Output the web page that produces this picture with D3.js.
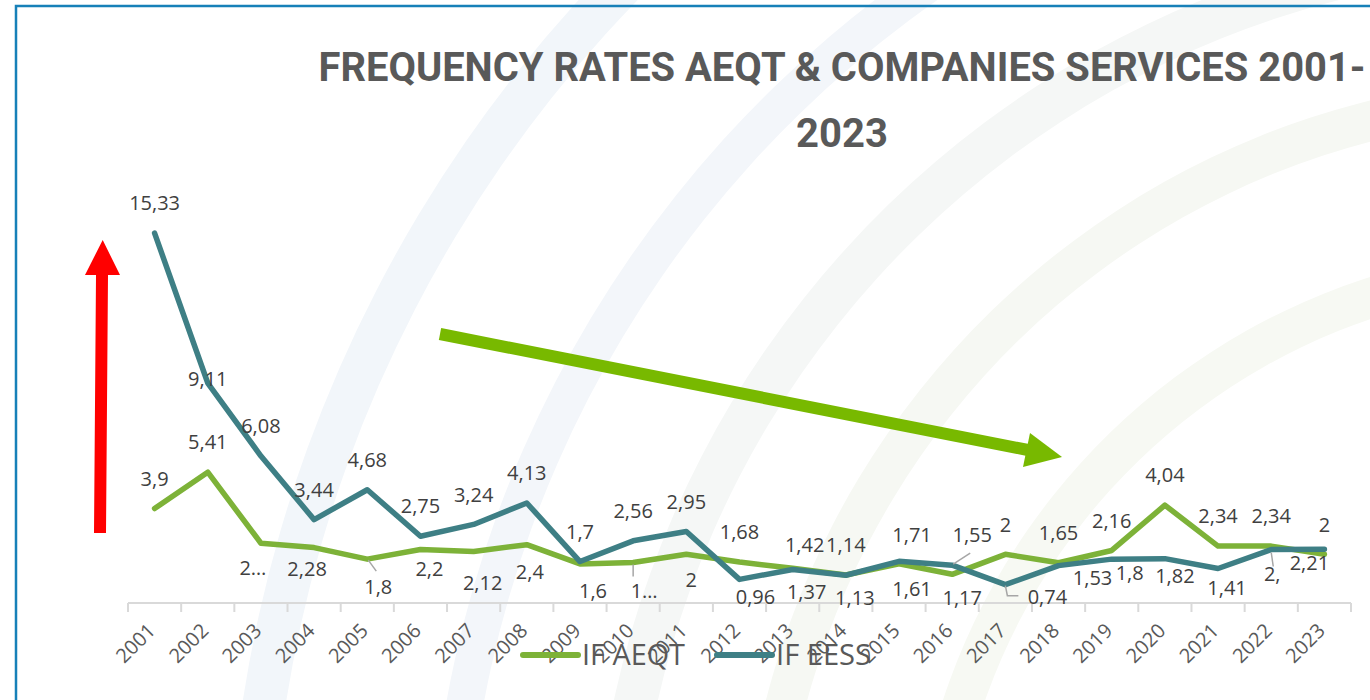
<!DOCTYPE html>
<html>
<head>
<meta charset="utf-8">
<script src="https://cdn.jsdelivr.net/npm/d3@7/dist/d3.min.js"></script>
<style>
  html, body { margin: 0; padding: 0; background: #fff; }
  svg { display: block; }
</style>
</head>
<body>
<svg id="chart" width="1370" height="700"></svg>
<script>
// ---------------- data ----------------
const years = ["2001","2002","2003","2004","2005","2006","2007","2008","2009","2010","2011","2012",
               "2013","2014","2015","2016","2017","2018","2019","2020","2021","2022","2023"];
const ifAeqt = [3.9, 5.41, 2.46, 2.28, 1.8, 2.2, 2.12, 2.4, 1.6, 1.66, 2, 1.68,
                1.42, 1.14, 1.61, 1.17, 2, 1.65, 2.16, 4.04, 2.34, 2.34, 2];
const ifEess = [15.33, 9.11, 6.08, 3.44, 4.68, 2.75, 3.24, 4.13, 1.7, 2.56, 2.95, 0.96,
                1.37, 1.13, 1.71, 1.55, 0.74, 1.53, 1.8, 1.82, 1.41, 2.2, 2.21];
const seriesNames = ["IF AEQT", "IF EESS"];
const titleLines = ["FREQUENCY RATES AEQT & COMPANIES SERVICES 2001-", "2023"];
// labels shown truncated in the original chart
const aeqtLabelText = { "2003": "2…", "2010": "1…" };
const eessLabelText = { "2022": "2," };

// ---------------- layout / style ----------------
const svg = d3.select("#chart");
const W = 1370, H = 700;
const colGreen = "#7db238", colTeal = "#3e7f85";
const labelFont = "'Open Sans', 'DejaVu Sans', sans-serif";

// per-label placement tweaks (label centre offset from its point), keyed series|year
const nudge = {
  "t|2002": [0, -4],
  "g|2003": [-8, 25], "g|2004": [-7, 21], "g|2005": [11, 28], "g|2006": [9, 19],
  "g|2007": [9, 31], "g|2008": [3, 27], "g|2009": [13, 27], "g|2010": [11, 28], "g|2011": [5, 25],
  "t|2012": [16, 17], "t|2013": [14, 22], "g|2013": [12, -23], "t|2014": [9, 23],
  "g|2015": [13, 25], "t|2015": [13, -26], "t|2016": [20, -30], "g|2016": [10, 23],
  "t|2017": [42, 12], "t|2018": [34, 12], "t|2019": [18, 14], "t|2020": [10, 17],
  "t|2021": [9, 19], "t|2022": [1, 24], "t|2023": [-15, 14]
};
// leader lines (relative to point)
const leaders = {
  "g|2005": [[1, 1], [9, 12]],
  "g|2010": [[0, 2], [0, 14]],
  "t|2016": [[1, -1], [18, -12]],
  "t|2017": [[0, 1], [2, 11], [13, 11]],
  "t|2022": [[0, 3], [2, 17]]
};

svg.append("rect").attr("width", W).attr("height", H).attr("fill", "#fff");

// decorative background arcs
const bg = svg.append("g");
const arcC = [1570, 906];
const bands = [
  { r0: 1300, r1: 1343, c: "#f2f6fa" },
  { r0: 1105, r1: 1142, c: "#f3f6fa" },
  { r0: 935,  r1: 978,  c: "#f5f7f6" },
  { r0: 790,  r1: 830,  c: "#f6f8f3" },
  { r0: 620,  r1: 660,  c: "#f7f9f3" }
];
bands.forEach(b => {
  bg.append("path")
    .attr("transform", `translate(${arcC[0]},${arcC[1]})`)
    .attr("d", d3.arc().innerRadius(b.r0).outerRadius(b.r1)
      .startAngle(-Math.PI / 2 - 0.3).endAngle(0.2)())
    .attr("fill", b.c);
});

// frame (top + left blue border)
svg.append("path").attr("d", "M16,700 L16,6 L1370,6")
  .attr("fill", "none").attr("stroke", "#1780b8").attr("stroke-width", 2.5);

// title
const title = svg.append("g").attr("fill", "#595959")
  .attr("font-family", "Roboto, 'Open Sans', sans-serif").attr("font-weight", 700)
  .attr("font-size", 40).attr("text-anchor", "middle");
title.append("text").attr("x", 842).attr("y", 81).attr("textLength", 1047)
  .attr("lengthAdjust", "spacingAndGlyphs").text(titleLines[0]);
title.append("text").attr("x", 842).attr("y", 147).text(titleLines[1]);

// scales
const x = d3.scaleBand().domain(years).range([128, 1351]).padding(0);
const y = d3.scaleLinear().domain([0, 16]).range([602.5, 217]);
const cx = d => x(d) + x.bandwidth() / 2;

// x axis
const axisY = 603;
const axisG = svg.append("g").attr("transform", `translate(0,${axisY})`);
axisG.append("line").attr("x1", 128).attr("x2", 1351).attr("stroke", "#d9d9d9").attr("stroke-width", 2);
const tickXs = years.map(d => x(d)).concat([x(years[years.length - 1]) + x.bandwidth()]);
axisG.selectAll("line.tick").data(tickXs).join("line").attr("class", "tick")
  .attr("x1", d => d).attr("x2", d => d).attr("y1", 0).attr("y2", 9)
  .attr("stroke", "#d9d9d9").attr("stroke-width", 2);
svg.append("g").selectAll("text").data(years).join("text")
  .attr("transform", d => `translate(${cx(d) + 2},632) rotate(-45)`)
  .attr("text-anchor", "end").attr("font-family", labelFont).attr("font-size", 20)
  .attr("fill", "#595959").text(d => d);

// lines
const rows = years.map((yr, i) => ({ year: yr, g: ifAeqt[i], t: ifEess[i] }));
const line = key => d3.line().x(d => cx(d.year)).y(d => y(d[key]));
svg.append("path").datum(rows).attr("d", line("g")).attr("fill", "none")
  .attr("stroke", colGreen).attr("stroke-width", 5.5)
  .attr("stroke-linejoin", "round").attr("stroke-linecap", "round");
svg.append("path").datum(rows).attr("d", line("t")).attr("fill", "none")
  .attr("stroke", colTeal).attr("stroke-width", 5.5)
  .attr("stroke-linejoin", "round").attr("stroke-linecap", "round");

// data labels
const fmt = v => String(v).replace(".", ",");
const labels = [];
rows.forEach(d => {
  const ga = d.g >= d.t || +d.year <= 2002 || d.year === "2023";
  const ta = d.t > d.g && d.year !== "2023";
  labels.push({ key: "g|" + d.year, year: d.year, v: d.g, above: ga, txt: aeqtLabelText[d.year] || fmt(d.g) });
  labels.push({ key: "t|" + d.year, year: d.year, v: d.t, above: ta, txt: eessLabelText[d.year] || fmt(d.t) });
});
labels.forEach(l => {
  const off = nudge[l.key] || (l.above ? [0, -30] : [8, 24]);
  l.lx = cx(l.year) + off[0];
  l.ly = y(l.v) + off[1];
  l.px = cx(l.year); l.py = y(l.v);
});
// leader lines
svg.append("g").selectAll("path").data(labels.filter(l => leaders[l.key])).join("path")
  .attr("d", l => "M" + leaders[l.key].map(p => [l.px + p[0], l.py + p[1]].join(",")).join("L"))
  .attr("fill", "none").attr("stroke", "#a6a6a6").attr("stroke-width", 1.5);
svg.append("g").selectAll("text").data(labels).join("text")
  .attr("x", l => l.lx).attr("y", l => l.ly)
  .attr("dy", "0.36em").attr("text-anchor", "middle")
  .attr("font-family", labelFont).attr("font-size", 20).attr("fill", "#404040")
  .text(l => l.txt);

// annotation arrows
svg.append("path")
  .attr("d", "M94,533 L96,275 L85,275 L102.7,240 L120,275 L108,275 L106,533 Z")
  .attr("fill", "#ff0000");
svg.append("line").attr("x1", 440).attr("y1", 334).attr("x2", 1028).attr("y2", 450)
  .attr("stroke", "#78b900").attr("stroke-width", 12);
svg.append("path").attr("d", "M1030,433 L1062,457 L1023,467 Z").attr("fill", "#78b900");

// legend
const legend = svg.append("g").attr("font-family", labelFont).attr("font-size", 30).attr("fill", "#595959");
const legItems = [
  { name: seriesNames[0], color: colGreen, x0: 523, tw: 103 },
  { name: seriesNames[1], color: colTeal, x0: 717, tw: 95 }
];
legItems.forEach(it => {
  legend.append("line").attr("x1", it.x0).attr("x2", it.x0 + 55).attr("y1", 655).attr("y2", 655)
    .attr("stroke", it.color).attr("stroke-width", 6).attr("stroke-linecap", "round");
  legend.append("text").attr("x", it.x0 + 59).attr("y", 665)
    .attr("textLength", it.tw).attr("lengthAdjust", "spacingAndGlyphs").text(it.name);
});
</script>
</body>
</html>
